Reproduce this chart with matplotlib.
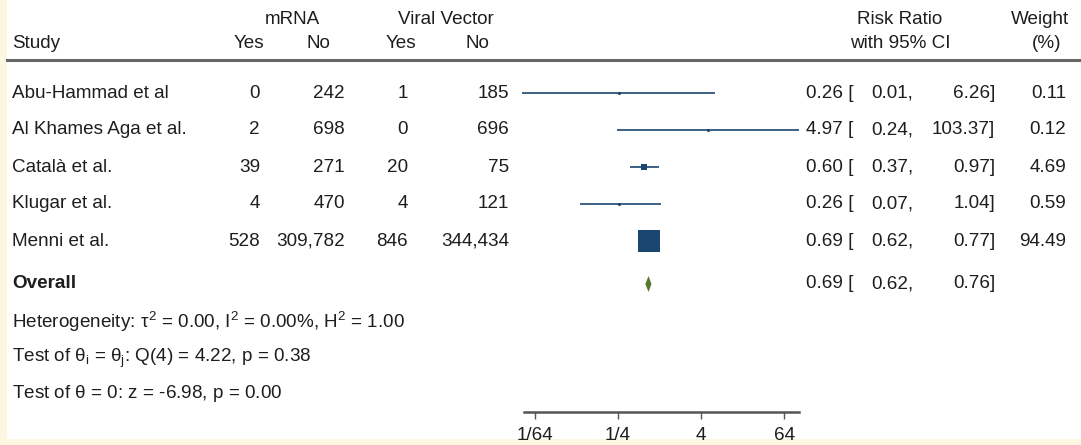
import matplotlib.pyplot as plt
import numpy as np

plt.rcParams['font.family'] = ['Liberation Sans', 'DejaVu Sans']
plt.rcParams['mathtext.fontset'] = 'custom'
plt.rcParams['mathtext.rm'] = 'Liberation Sans'
plt.rcParams['mathtext.it'] = 'Liberation Sans'

studies = ["Abu-Hammad et al", "Al Khames Aga et al.", "Català et al.",
           "Klugar et al.", "Menni et al."]
mrna_yes = [0, 2, 39, 4, 528]
mrna_no = [242, 698, 271, 470, 309782]
vv_yes = [1, 0, 20, 4, 846]
vv_no = [185, 696, 75, 121, 344434]
rr = [0.26, 4.97, 0.60, 0.26, 0.69]
ci_lo = [0.01, 0.24, 0.37, 0.07, 0.62]
ci_hi = [6.26, 103.37, 0.97, 1.04, 0.77]
weight = [0.11, 0.12, 4.69, 0.59, 94.49]
overall = [0.69, 0.62, 0.76]
tick_vals = [1/64, 1/4, 4, 64]
tick_labels = ["1/64", "1/4", "4", "64"]

W, H = 1081, 445
navy = "#1a476f"
green = "#55792c"
txt = "#1e1e1e"
fs = 13.6

fig = plt.figure(figsize=(W / 100, H / 100), dpi=100)
fig.patch.set_facecolor("white")
# cream scan borders
fig.add_artist(plt.Rectangle((0, 0), 7 / W, 1, transform=fig.transFigure,
                             color="#fdf7e1", lw=0, zorder=0))
fig.add_artist(plt.Rectangle((0, 0), 1, 6 / H, transform=fig.transFigure,
                             color="#fdf7e1", lw=0, zorder=0))

# forest axes: y in pixel rows, x on log2 scale
x0, x1 = 521, 799
ax = fig.add_axes([x0 / W, 0, (x1 - x0) / W, 1])
ax.set_xscale("log", base=2)
ax.set_xlim(2 ** -6.67, 2 ** 6.70)
ax.set_ylim(H, 0)
ax.patch.set_alpha(0)
for s in ["top", "left", "right"]:
    ax.spines[s].set_visible(False)
ax.spines["bottom"].set_position(("data", 412))
ax.spines["bottom"].set_bounds(2 ** -6.53, 2 ** 6.70)
ax.spines["bottom"].set_color("#555555")
ax.spines["bottom"].set_linewidth(1.8)
ax.set_yticks([])
ax.set_xticks(tick_vals)
ax.set_xticklabels(tick_labels, fontsize=fs, color=txt)
ax.minorticks_off()
ax.tick_params(axis="x", direction="out", length=5, width=1, color="#555555", pad=6)

row_y = [93 + 37 * i for i in range(len(studies))]
for i, y in enumerate(row_y):
    ax.plot([ci_lo[i], ci_hi[i]], [y, y], color=navy, lw=1.2, solid_capstyle="butt", zorder=2)
    ax.scatter([rr[i]], [y], marker="s", s=weight[i] * 2.9, color=navy, lw=0, zorder=3)
    ax.scatter([rr[i]], [y], marker="o", s=5, color=navy, lw=0, zorder=4)

oy = 284
ax.fill([overall[1], overall[0], overall[2], overall[0]],
        [oy, oy - 8, oy, oy + 8], color=green, lw=0, zorder=3)


def t(x, y, s, ha="left", **kw):
    fig.text(x / W, 1 - y / H, s, ha=ha, va="center", fontsize=fs, color=txt, **kw)


# header
t(292, 20, "mRNA", ha="center")
t(446, 20, "Viral Vector", ha="center")
t(900, 20, "Risk Ratio", ha="center")
t(1040, 20, "Weight", ha="center")
t(12, 44, "Study")
t(264, 44, "Yes", ha="right")
t(318, 44, "No", ha="center")
t(416, 44, "Yes", ha="right")
t(477, 44, "No", ha="center")
t(900, 44, "with 95% CI", ha="center")
t(1047, 44, "(%)", ha="center")
fig.add_artist(plt.Line2D([7 / W, 1], [1 - 60 / H, 1 - 60 / H], color="#666666", lw=2.2))

for i, y in enumerate(row_y):
    t(12, y, studies[i])
    t(260, y, f"{mrna_yes[i]:,}", ha="right")
    t(345, y, f"{mrna_no[i]:,}", ha="right")
    t(408, y, f"{vv_yes[i]:,}", ha="right")
    t(509, y, f"{vv_no[i]:,}", ha="right")
    t(806, y, f"{rr[i]:.2f} [")
    t(913, y, f"{ci_lo[i]:.2f},", ha="right")
    t(995, y, f"{ci_hi[i]:.2f}]", ha="right")
    t(1066, y, f"{weight[i]:.2f}", ha="right")

t(12, oy, "Overall", fontweight="bold")
t(806, oy, f"{overall[0]:.2f} [")
t(913, oy, f"{overall[1]:.2f},", ha="right")
t(995, oy, f"{overall[2]:.2f}]", ha="right")

t(12, 322, r"Heterogeneity: $\tau^2$ = 0.00, I$^2$ = 0.00%, H$^2$ = 1.00")
t(12, 358, r"Test of $\theta_i$ = $\theta_j$: Q(4) = 4.22, p = 0.38")
t(12, 393, r"Test of $\theta$ = 0: z = -6.98, p = 0.00")

fig.savefig("out.png", dpi=100)
